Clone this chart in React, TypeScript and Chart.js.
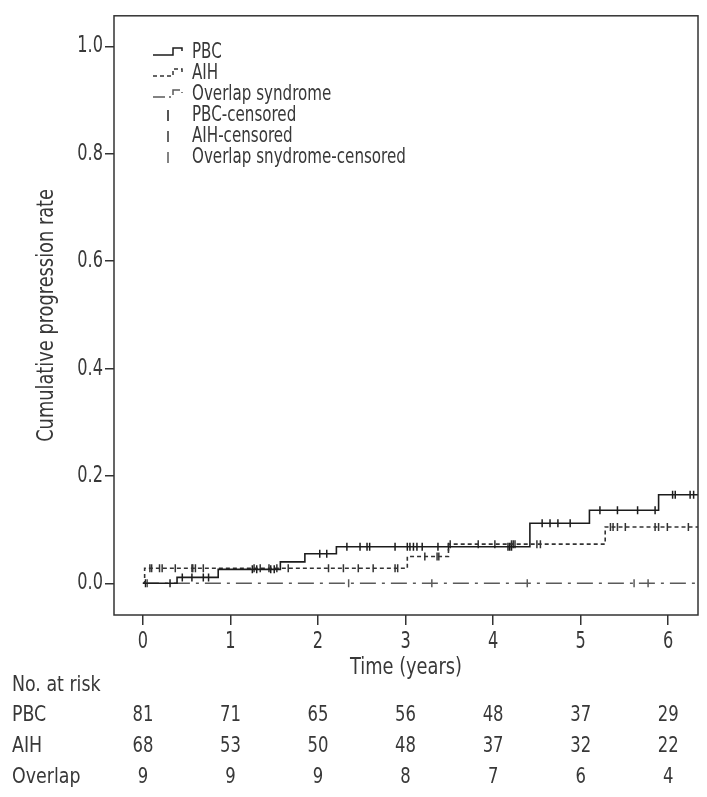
import React, { useEffect, useRef } from 'react';
import { Chart, registerables } from 'chart.js';
Chart.register(...registerables);

const FONT = "'DejaVu Sans Condensed', 'DejaVu Sans', sans-serif";

// Axis ranges and ticks
const X_MIN = -0.33;
const X_MAX = 6.34;
const Y_MIN = -0.059;
const Y_MAX = 1.057;
const X_TICKS = [0, 1, 2, 3, 4, 5, 6];
const Y_TICKS = [0, 0.2, 0.4, 0.6, 0.8, 1.0];

// Kaplan-Meier step curves (time in years, cumulative progression rate)
const pbcTimes = [0, 0.39, 0.86, 1.57, 1.85, 2.21, 4.42, 5.1, 5.89, 6.34];
const pbcRates = [0, 0.011, 0.026, 0.04, 0.055, 0.068, 0.112, 0.136, 0.165, 0.165];
const aihTimes = [0, 0.02, 3.02, 3.49, 5.28, 6.34];
const aihRates = [0, 0.028, 0.05, 0.073, 0.105, 0.105];
const overlapTimes = [0, 6.34];
const overlapRates = [0, 0];

// Censoring times
const pbcCensored = [0.03, 0.31, 0.45, 0.56, 0.69, 0.75, 1.25, 1.3, 1.46, 1.5, 2.02, 2.1, 2.33, 2.48, 2.56, 2.59, 2.88, 3.02, 3.05, 3.09, 3.13, 3.19, 3.37, 3.49, 4.17, 4.19, 4.21, 4.56, 4.65, 4.74, 4.88, 5.22, 5.42, 5.65, 5.85, 6.05, 6.08, 6.25, 6.29];
const aihCensored = [0.08, 0.1, 0.19, 0.22, 0.37, 0.56, 0.57, 0.6, 0.69, 1.27, 1.34, 1.44, 1.53, 1.66, 2.12, 2.29, 2.46, 2.63, 2.88, 2.91, 3.22, 3.36, 3.38, 3.51, 3.83, 4.02, 4.21, 4.23, 4.25, 4.5, 4.54, 5.34, 5.37, 5.42, 5.51, 5.85, 5.89, 5.99, 6.23];
const overlapCensored = [0.05, 2.35, 3.3, 4.39, 5.61, 5.77];

// Legend labels
const legendLabels = ['PBC', 'AIH', 'Overlap syndrome', 'PBC-censored', 'AIH-censored', 'Overlap snydrome-censored'];

// Number at risk table
const riskTitle = 'No. at risk';
const riskGroups = ['PBC', 'AIH', 'Overlap'];
const pbcRisk = [81, 71, 65, 56, 48, 37, 29];
const aihRisk = [68, 53, 50, 48, 37, 32, 22];
const overlapRisk = [9, 9, 9, 8, 7, 6, 4];

const PBC_COLOR = '#1c1c1c';
const AIH_COLOR = '#333333';
const OVL_COLOR = '#5a5a5a';
const TEXT_COLOR = '#383838';

const PBC_DASH: number[] = [];
const AIH_DASH = [4, 3];
const OVL_DASH = [16, 6, 3, 6];

// horizontal condensing of text (the reference uses a condensed face)
let squeezeOverride: number | null = null;

function toPoints(ts: number[], vs: number[]) {
  return ts.map((t, i) => ({ x: t, y: vs[i] }));
}
function levelAt(ts: number[], vs: number[], t: number) {
  let v = vs[0];
  for (let i = 0; i < ts.length; i++) if (ts[i] <= t) v = vs[i];
  return v;
}
function censorPoints(c: number[], ts: number[], vs: number[]) {
  return c.map((t) => ({ x: t, y: levelAt(ts, vs, t) }));
}

const condensePlugin = {
  id: 'condense',
  beforeDraw(chart: any) {
    const ctx = chart.ctx;
    if (ctx.__condensed) return;
    ctx.__condensed = true;
    const orig = ctx.fillText.bind(ctx);
    ctx.fillText = function (text: string, x: number, y: number, maxWidth?: number) {
      const s = String(text);
      let k = squeezeOverride;
      if (k === null) k = /^[\d.\s-]+$/.test(s) ? 0.78 : 0.86;
      const w = ctx.measureText(s).width * k;
      const mw = maxWidth !== undefined && maxWidth !== null ? Math.min(maxWidth, w) : w;
      orig(s, x, y, mw);
    };
  },
};

const boxPlugin = {
  id: 'boxAndExtras',
  afterDraw(chart: any) {
    const { ctx, chartArea, scales } = chart;
    ctx.save();
    // frame
    ctx.strokeStyle = '#333';
    ctx.lineWidth = 1.5;
    ctx.setLineDash([]);
    ctx.strokeRect(chartArea.left, chartArea.top, chartArea.right - chartArea.left, chartArea.bottom - chartArea.top);

    // legend
    const lx0 = 153, lxText = 192, ly0 = 53, lstep = 21;
    const lineStyles = [
      { c: PBC_COLOR, d: PBC_DASH },
      { c: AIH_COLOR, d: AIH_DASH },
      { c: OVL_COLOR, d: OVL_DASH },
    ];
    ctx.font = `21px ${FONT}`;
    ctx.textBaseline = 'middle';
    ctx.textAlign = 'left';
    legendLabels.forEach((lab, i) => {
      const y = ly0 + i * lstep;
      ctx.lineWidth = 1.5;
      if (i < 3) {
        const s = lineStyles[i];
        ctx.strokeStyle = s.c;
        ctx.setLineDash(i === 2 ? [12, 4, 2, 4] : s.d);
        ctx.beginPath();
        ctx.moveTo(lx0, y + 2);
        ctx.lineTo(lx0 + 20, y + 2);
        ctx.lineTo(lx0 + 20, y - 5);
        ctx.lineTo(lx0 + 29, y - 5);
        ctx.lineTo(lx0 + 29, y - 2);
        ctx.stroke();
      } else {
        const s = lineStyles[i - 3];
        ctx.strokeStyle = s.c;
        ctx.setLineDash([]);
        ctx.beginPath();
        ctx.moveTo(lx0 + 15, y - 6);
        ctx.lineTo(lx0 + 15, y + 5);
        ctx.stroke();
      }
      ctx.fillStyle = TEXT_COLOR;
      squeezeOverride = 0.8;
      ctx.fillText(lab, lxText, y);
    });

    // risk table
    const xs = scales.x;
    const rows = [pbcRisk, aihRisk, overlapRisk];
    const rowY = [715, 746, 777];
    ctx.font = `22px ${FONT}`;
    ctx.fillStyle = TEXT_COLOR;
    ctx.textAlign = 'left';
    squeezeOverride = 0.88;
    ctx.fillText(riskTitle, 12, 685);
    rows.forEach((r, ri) => {
      ctx.textAlign = 'left';
      squeezeOverride = 0.88;
      ctx.fillText(riskGroups[ri], 12, rowY[ri]);
      ctx.textAlign = 'center';
      squeezeOverride = 0.83;
      r.forEach((n, i) => {
        ctx.fillText(String(n), xs.getPixelForValue(X_TICKS[i]), rowY[ri]);
      });
    });
    squeezeOverride = null;
    ctx.restore();
  },
};

export default function App() {
  const ref = useRef<HTMLCanvasElement>(null);
  useEffect(() => {
    document.body.style.margin = '0';
    const lineDs = (label: string, ts: number[], vs: number[], color: string, dash: number[]) => ({
      type: 'line' as const,
      label,
      data: toPoints(ts, vs),
      stepped: true,
      borderColor: color,
      borderWidth: 1.6,
      borderDash: dash,
      pointRadius: 0,
      fill: false,
    });
    const censorDs = (label: string, c: number[], ts: number[], vs: number[], color: string) => ({
      type: 'scatter' as const,
      label,
      data: censorPoints(c, ts, vs),
      pointStyle: 'line',
      rotation: 90,
      pointRadius: 4,
      borderColor: color,
      borderWidth: 1.5,
      showLine: false,
    });
    const chart = new Chart(ref.current!, {
      type: 'scatter',
      data: {
        datasets: [
          lineDs('PBC', pbcTimes, pbcRates, PBC_COLOR, PBC_DASH),
          lineDs('AIH', aihTimes, aihRates, AIH_COLOR, AIH_DASH),
          lineDs('Overlap syndrome', overlapTimes, overlapRates, OVL_COLOR, OVL_DASH),
          censorDs('PBC-censored', pbcCensored, pbcTimes, pbcRates, PBC_COLOR),
          censorDs('AIH-censored', aihCensored, aihTimes, aihRates, AIH_COLOR),
          censorDs('Overlap snydrome-censored', overlapCensored, overlapTimes, overlapRates, OVL_COLOR),
        ] as any,
      },
      options: {
        responsive: false,
        animation: false,
        layout: { padding: { left: 0, top: 7, right: 9, bottom: 112 } },
        plugins: { legend: { display: false }, tooltip: { enabled: false } },
        scales: {
          x: {
            type: 'linear',
            min: X_MIN,
            max: X_MAX,
            afterBuildTicks: (s: any) => { s.ticks = X_TICKS.map((v) => ({ value: v })); },
            afterFit: (s: any) => { s.height = 70; },
            ticks: { color: TEXT_COLOR, font: { family: FONT, size: 23 }, padding: 3, maxRotation: 0, callback: (v: any) => String(v) },
            grid: { drawOnChartArea: false, drawTicks: true, tickLength: 10, color: '#333', lineWidth: 1.5 },
            border: { display: false },
            title: { display: true, text: 'Time (years)', color: TEXT_COLOR, font: { family: FONT, size: 23 }, padding: { top: 0, bottom: 3 } },
          },
          y: {
            type: 'linear',
            min: Y_MIN,
            max: Y_MAX,
            afterBuildTicks: (s: any) => { s.ticks = Y_TICKS.map((v) => ({ value: v })); },
            afterFit: (s: any) => { s.width = 114; },
            ticks: { color: TEXT_COLOR, font: { family: FONT, size: 23 }, padding: 2, callback: (v: any) => Number(v).toFixed(1) },
            grid: { drawOnChartArea: false, drawTicks: true, tickLength: 9, color: '#333', lineWidth: 1.5 },
            border: { display: false },
            title: { display: true, text: 'Cumulative progression rate', color: TEXT_COLOR, font: { family: FONT, size: 23 }, padding: { top: 33, bottom: 0 } },
          },
        },
      } as any,
      plugins: [condensePlugin, boxPlugin],
    });
    return () => chart.destroy();
  }, []);
  return (
    <div style={{ width: 707, height: 797, position: 'relative' }}>
      <canvas ref={ref} width={707} height={797} style={{ display: 'block' }} />
    </div>
  );
}
